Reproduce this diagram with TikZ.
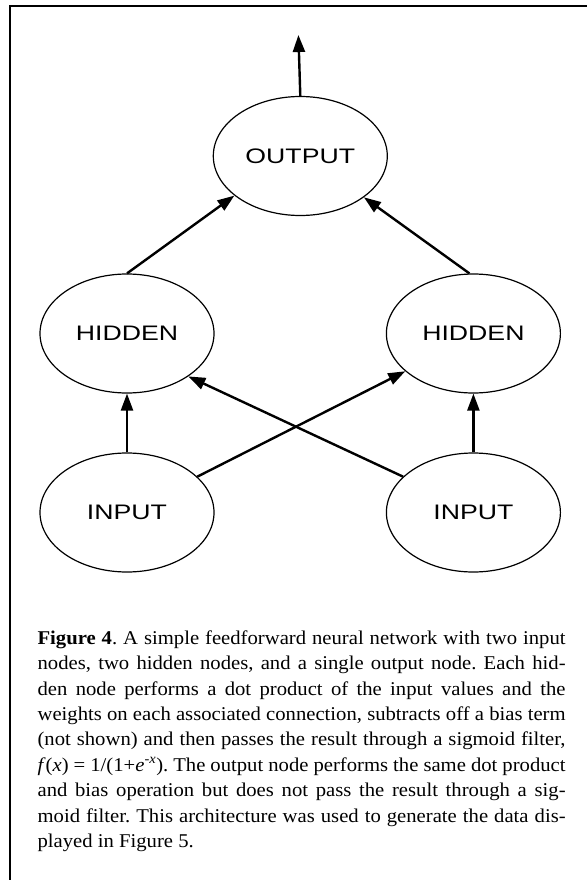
\documentclass[tikz,border=0pt]{standalone}
\usepackage{fontspec}
\setmainfont{Liberation Serif}[FakeStretch=1.06]
\newfontfamily\labelfont{Liberation Sans}[FakeStretch=1.27]
\usetikzlibrary{arrows.meta,shapes.geometric}
\frenchspacing

\begin{document}
\begin{tikzpicture}[x=1pt,y=-1pt,
  neuron/.style={draw, line width=1.2pt, ellipse, minimum width=174pt,
    minimum height=119pt, inner sep=0pt,
    font=\labelfont\fontsize{21}{21}\selectfont},
  link/.style={line width=2.4pt,
    -{Triangle[length=17pt,width=12pt]}},
  frameline/.style={line width=2pt}]
\useasboundingbox (0,0) rectangle (587,880);

% open frame along the top and the left side
\draw[frameline] (10,880) -- (10,6) -- (587,6);

% nodes
\node[neuron] (out) at (300.3,156) {OUTPUT};
\node[neuron] (hl) at (127,333.5) {HIDDEN};
\node[neuron] (hr) at (473.4,333.5) {HIDDEN};
\node[neuron] (il) at (127,512.5) {INPUT};
\node[neuron] (ir) at (473.4,512.5) {INPUT};
\coordinate (top) at (298.4,35);

% connections
\draw[link] (out.north) -- (top);
\draw[link] (hl.north) -- (out.211);
\draw[link] ([xshift=-4pt]hr.north) -- (out.-33);
\draw[link] (il.north) -- (hl.south);
\draw[link] (ir.north) -- (hr.south);
\draw[link] (il.27) -- (hr.209);
\draw[link] (ir.153.6) -- (hl.-35);

% caption (the base anchor of a multi-line node is its last line)
\node[anchor=base west, inner sep=0pt, align=left,
  font=\fontsize{19.5}{25.4}\selectfont] (cap) at (37.4,847.5) {%
\makebox[528pt][s]{\textbf{Figure 4}. A simple feedforward neural network with two input}\\
\makebox[528pt][s]{nodes, two hidden nodes, and a single output node. Each hid-}\\
\makebox[528pt][s]{den node performs a dot product of the input values and the}\\
\makebox[528pt][s]{weights on each associated connection, subtracts off a bias term}\\
\makebox[528pt][s]{(not shown) and then passes the result through a sigmoid filter,}\\
\makebox[528pt][s]{\textit{f}(\textit{x}) = 1/(1+\textit{e}\textsuperscript{-\textit{x}}). The output node performs the same dot product}\\
\makebox[528pt][s]{and bias operation but does not pass the result through a sig-}\\
\makebox[528pt][s]{moid filter. This architecture was used to generate the data dis-}\\
played in Figure 5.};
\end{tikzpicture}
\end{document}
